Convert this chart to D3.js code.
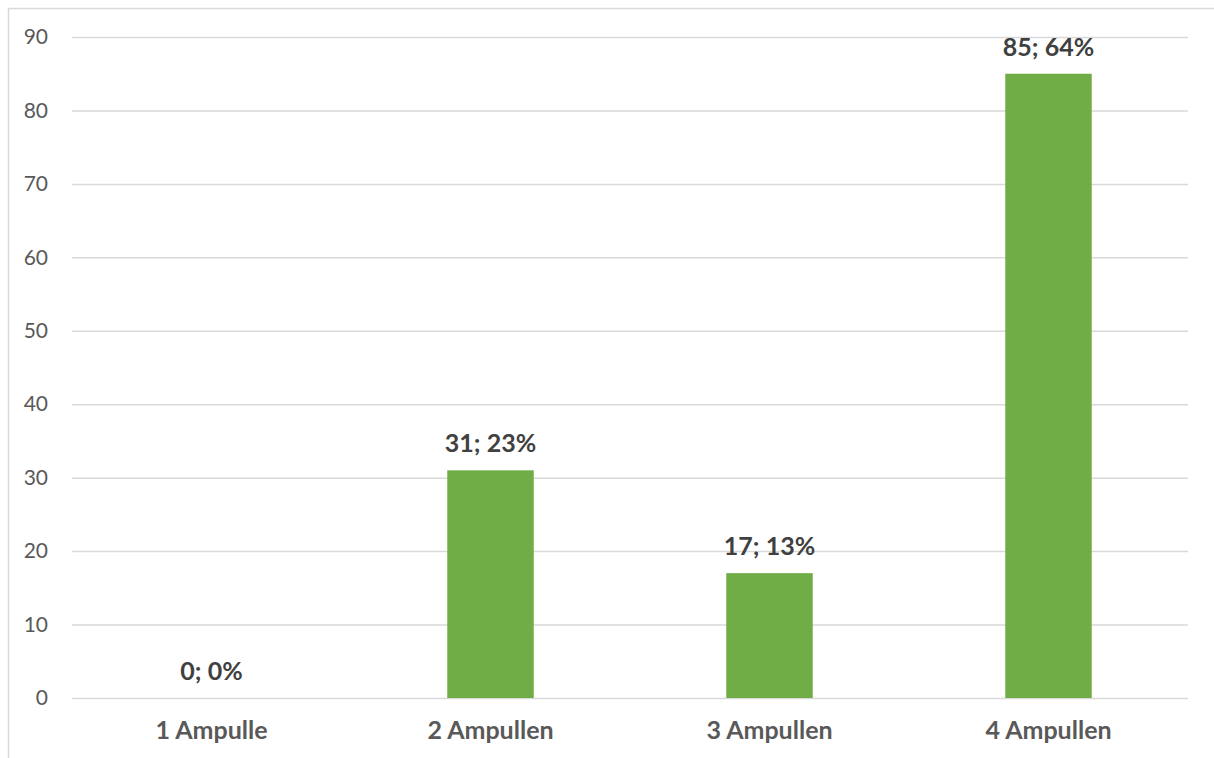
<!DOCTYPE html>
<html><head><meta charset="utf-8">
<script src="https://cdn.jsdelivr.net/npm/d3@7"></script>
<style>html,body{margin:0;padding:0;background:#fff;}svg{display:block;}</style>
</head><body>
<svg id="c" width="1214" height="758"></svg>
<script>
const categories = ["1 Ampulle", "2 Ampullen", "3 Ampullen", "4 Ampullen"];
const values = [0, 31, 17, 85];
const percents = ["0%", "23%", "13%", "64%"];
const yTicks = [0, 10, 20, 30, 40, 50, 60, 70, 80, 90];

const svg = d3.select("#c");
const font = "Lato, 'Open Sans', sans-serif";
// outer border (chart area frame, partly cropped)
svg.append("rect").attr("x", 8.5).attr("y", 8.5).attr("width", 1230).attr("height", 780)
  .attr("fill", "none").attr("stroke", "#d9d9d9").attr("stroke-width", 1.5);

const x = d3.scaleBand().domain(categories).range([72, 1188]).paddingInner(0.69).paddingOuter(0.345);
const y = d3.scaleLinear().domain([0, 90]).range([698, 37]);

const gy = svg.append("g").attr("transform", "translate(72,0)")
  .call(d3.axisLeft(y).tickValues(yTicks).tickSize(-1116).tickPadding(24));
gy.select(".domain").remove();
gy.selectAll(".tick line").attr("stroke", "#d9d9d9").attr("stroke-width", 1.5);
gy.selectAll(".tick text").attr("fill", "#595959").style("font-family", font).style("font-size", "21px");

svg.selectAll("rect.bar").data(values).join("rect").attr("class", "bar")
  .attr("x", (d, i) => x(categories[i])).attr("width", x.bandwidth())
  .attr("y", d => y(d)).attr("height", d => y(0) - y(d)).attr("fill", "#70ad47");

const gx = svg.append("g").attr("transform", "translate(0,698)")
  .call(d3.axisBottom(x).tickSize(0));
gx.select(".domain").remove();
gx.selectAll(".tick text").attr("fill", "#595959").attr("y", 41).attr("dy", null)
  .style("font-family", font).style("font-size", "25px").style("font-weight", "bold");

svg.selectAll("text.lbl").data(values).join("text").attr("class", "lbl")
  .attr("x", (d, i) => x(categories[i]) + x.bandwidth() / 2)
  .attr("y", d => y(d) - 18).attr("text-anchor", "middle")
  .attr("fill", "#404040").style("font-family", font).style("font-size", "25px").style("font-weight", "bold")
  .text((d, i) => d + "; " + percents[i]);
</script>
</body></html>
